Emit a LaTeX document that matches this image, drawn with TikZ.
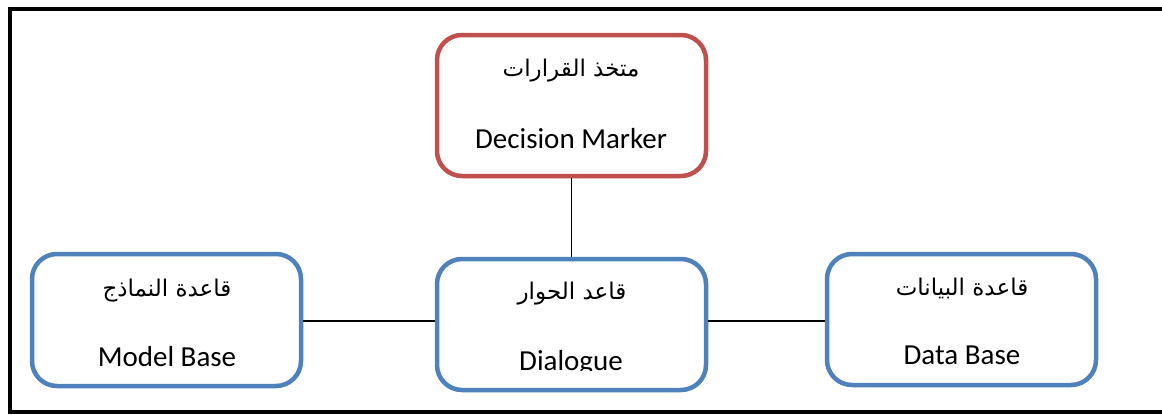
\documentclass[tikz,border=0pt]{standalone}
\usepackage{fontspec}
\setmainfont{Carlito}
\newfontfamily\arabicfont[Script=Arabic]{DejaVu Sans}
\TeXXeTstate=1
\definecolor{boxblue}{HTML}{4F81BD}
\definecolor{boxred}{HTML}{C0504D}
\begin{document}
\begin{tikzpicture}[x=1pt,y=-1pt,
  box/.style={draw=boxblue, line width=4.5pt, rounded corners=25pt, minimum width=269pt, minimum height=131pt, inner sep=0pt},
  en/.style={font=\fontsize{29}{32}\selectfont, inner sep=0pt, anchor=base},
  ar/.style={font=\arabicfont\fontsize{23}{28}\selectfont, inner sep=0pt},
  link/.style={line width=1.5pt}]
\useasboundingbox (0,0) rectangle (1162,415);
\draw[line width=4pt] (1200,9) -- (10,9) -- (10,412) -- (1200,412);

\node[box, draw=boxred, minimum height=141pt] (dm) at (571.5,105.5) {};
\node[box] (dlg) at (571.5,324.5) {};
\node[box, minimum height=132pt] (mb) at (166.5,320) {};
\node[box] (db) at (961.5,319.5) {};

\node[ar] (dmar) at (571,71) {\beginR متخذ القرارات\endR};
\node[en] (dmen) at (571,148) {Decision Marker};
\node[ar] (dlgar) at (572,294) {\beginR قاعد الحوار\endR};
\begin{scope}
\clip (440,262) rectangle (703,370);
\node[en] (dlgen) at (571,370) {Dialogue};
\end{scope}
\node[ar] (mbar) at (167,291) {\beginR قاعدة النماذج\endR};
\node[en] (mben) at (167,366) {Model Base};
\node[ar] (dbar) at (962,288) {\beginR قاعدة البيانات\endR};
\node[en] (dben) at (962,364) {Data Base};

\draw[link] (dm.south) -- (dm.south |- dlg.north);
\draw[link] (mb.east |- 0,321) -- (dlg.west |- 0,321);
\draw[link] (dlg.east |- 0,321) -- (db.west |- 0,321);
\end{tikzpicture}
\end{document}
